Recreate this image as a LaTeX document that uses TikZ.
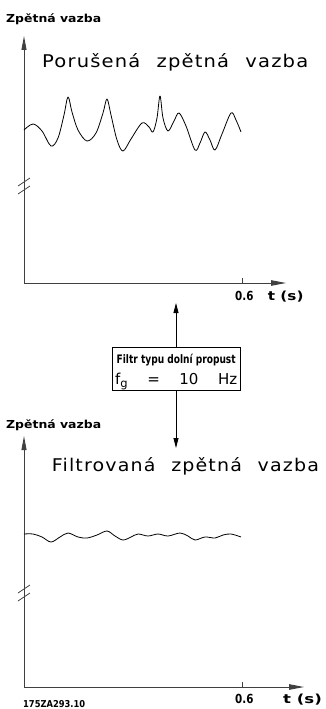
\documentclass[tikz,border=0pt]{standalone}
\usepackage{fontspec}
\usepackage{graphicx}
\setmainfont{DejaVu Sans}
\newfontfamily\titlefont{DejaVu Sans}[LetterSpace=6,WordSpace=2.2]
\usetikzlibrary{arrows.meta}
\begin{document}
\begin{tikzpicture}[x=1pt,y=-1pt,
  axisline/.style={line width=0.9pt, draw=black!75, -{Triangle[length=14pt,width=5pt]}},
  xaxisline/.style={line width=0.9pt, draw=black!75, -{Triangle[length=15pt,width=5.5pt]}},
  farrow/.style={line width=0.8pt, -{Triangle[length=10pt,width=5pt]}},
  wave/.style={line width=0.8pt, line join=round},
  brk/.style={line width=0.8pt, draw=black!75},
  lbl/.style={inner sep=0pt, anchor=base west},
  fbox/.style={draw, line width=0.8pt, minimum width=128pt, minimum height=43pt, inner sep=0pt}]
\useasboundingbox (0,0) rectangle (326,709);

% ---------- top graph ----------
\node[lbl] (yl1) at (6,23) {\resizebox{95pt}{\height}{\bfseries\fontsize{11}{13}\selectfont Zpětná vazba}};
\node[lbl] (t1) at (42,67.3) {\resizebox{266pt}{\height}{\titlefont\fontsize{17.5}{20}\selectfont Porušená zpětná vazba}};
\coordinate (o1) at (24,283);
\coordinate (y1) at (24,36);
\coordinate (x1) at (286,283);
\coordinate (tk1) at (242,283);
\draw[axisline] (o1) -- (y1);
\draw[xaxisline] (o1) -- (x1);
\draw[brk] (tk1) -- ++(0,-5);
\draw[brk] (18,186) -- (30,178);
\draw[brk] (18,194) -- (30,186);
\node[lbl] (n1) at (235,300) {\resizebox{18.3pt}{\height}{\bfseries\fontsize{12.5}{14}\selectfont 0.6}};
\node[lbl] (ts1) at (267.7,300) {\resizebox{35.6pt}{\height}{\bfseries\fontsize{12.5}{14}\selectfont t (s)}};
\draw[wave] plot[smooth, tension=0.55] coordinates {
 (24,130) (33,124) (42,131) (51,146) (58,138) (64,115) (68,97) (72,112) (78,130)
 (87,141) (96,133) (103,113) (107,99) (111,115) (117,140) (123,151) (131,139)
 (142,123) (149,127) (153,132) (157,118) (160,96) (163,118) (168,131) (174,121)
 (179,113) (186,126) (195,150) (200,143) (205,132) (210,140) (215,150) (222,134)
 (231,113) (236,120) (241,132)};

% ---------- filter box ----------
\node[fbox] (filt) at (176,368.5) {};
\node[lbl] (ft1) at (116.5,363.5) {\resizebox{119pt}{\height}{\bfseries\fontsize{11.7}{14}\selectfont Filtr typu dolní propust}};
\node[lbl] (ft2) at (115,384) {\fontsize{15}{17}\selectfont\hbox to 122pt{f\raisebox{-3.5pt}{\fontsize{11.5}{13}\selectfont g}\hfill=\hfill10\hfill Hz}};
\coordinate (uptip) at (176,303);
\coordinate (dntip) at (176,448);
\draw[farrow] (filt.north) -- (uptip);
\draw[farrow] (filt.south) -- (dntip);

% ---------- bottom graph ----------
\node[lbl] (yl2) at (6,428) {\resizebox{95pt}{\height}{\bfseries\fontsize{11}{13}\selectfont Zpětná vazba}};
\node[lbl] (t2) at (51.7,471.7) {\resizebox{267pt}{\height}{\titlefont\fontsize{17.5}{20}\selectfont Filtrovaná zpětná vazba}};
\coordinate (o2) at (24,687);
\coordinate (y2) at (24,436);
\coordinate (x2) at (304,687);
\coordinate (tk2) at (242,687);
\draw[axisline] (o2) -- (y2);
\draw[xaxisline] (o2) -- (x2);
\draw[brk] (tk2) -- ++(0,-5);
\draw[brk] (18,593) -- (30,585);
\draw[brk] (18,601) -- (30,593);
\node[lbl] (n2) at (235,703.3) {\resizebox{18.3pt}{\height}{\bfseries\fontsize{12.5}{14}\selectfont 0.6}};
\node[lbl] (ts2) at (283,703.3) {\resizebox{38.7pt}{\height}{\bfseries\fontsize{12.5}{14}\selectfont t (s)}};
\draw[wave] plot[smooth, tension=0.55] coordinates {
 (24,534) (33,534) (42,537) (51,542) (60,537) (68,533) (78,537) (87,538) (97,535)
 (107,531) (115,536) (123,540) (131,537) (138,534) (148,536) (158,534) (168,536)
 (180,533) (188,536) (195,540) (205,537) (215,538) (223,535) (231,534) (241,537)};
\node[lbl] (code) at (23,707.3) {\resizebox{62pt}{\height}{\bfseries\fontsize{9.5}{11}\selectfont 175ZA293.10}};
\end{tikzpicture}
\end{document}
